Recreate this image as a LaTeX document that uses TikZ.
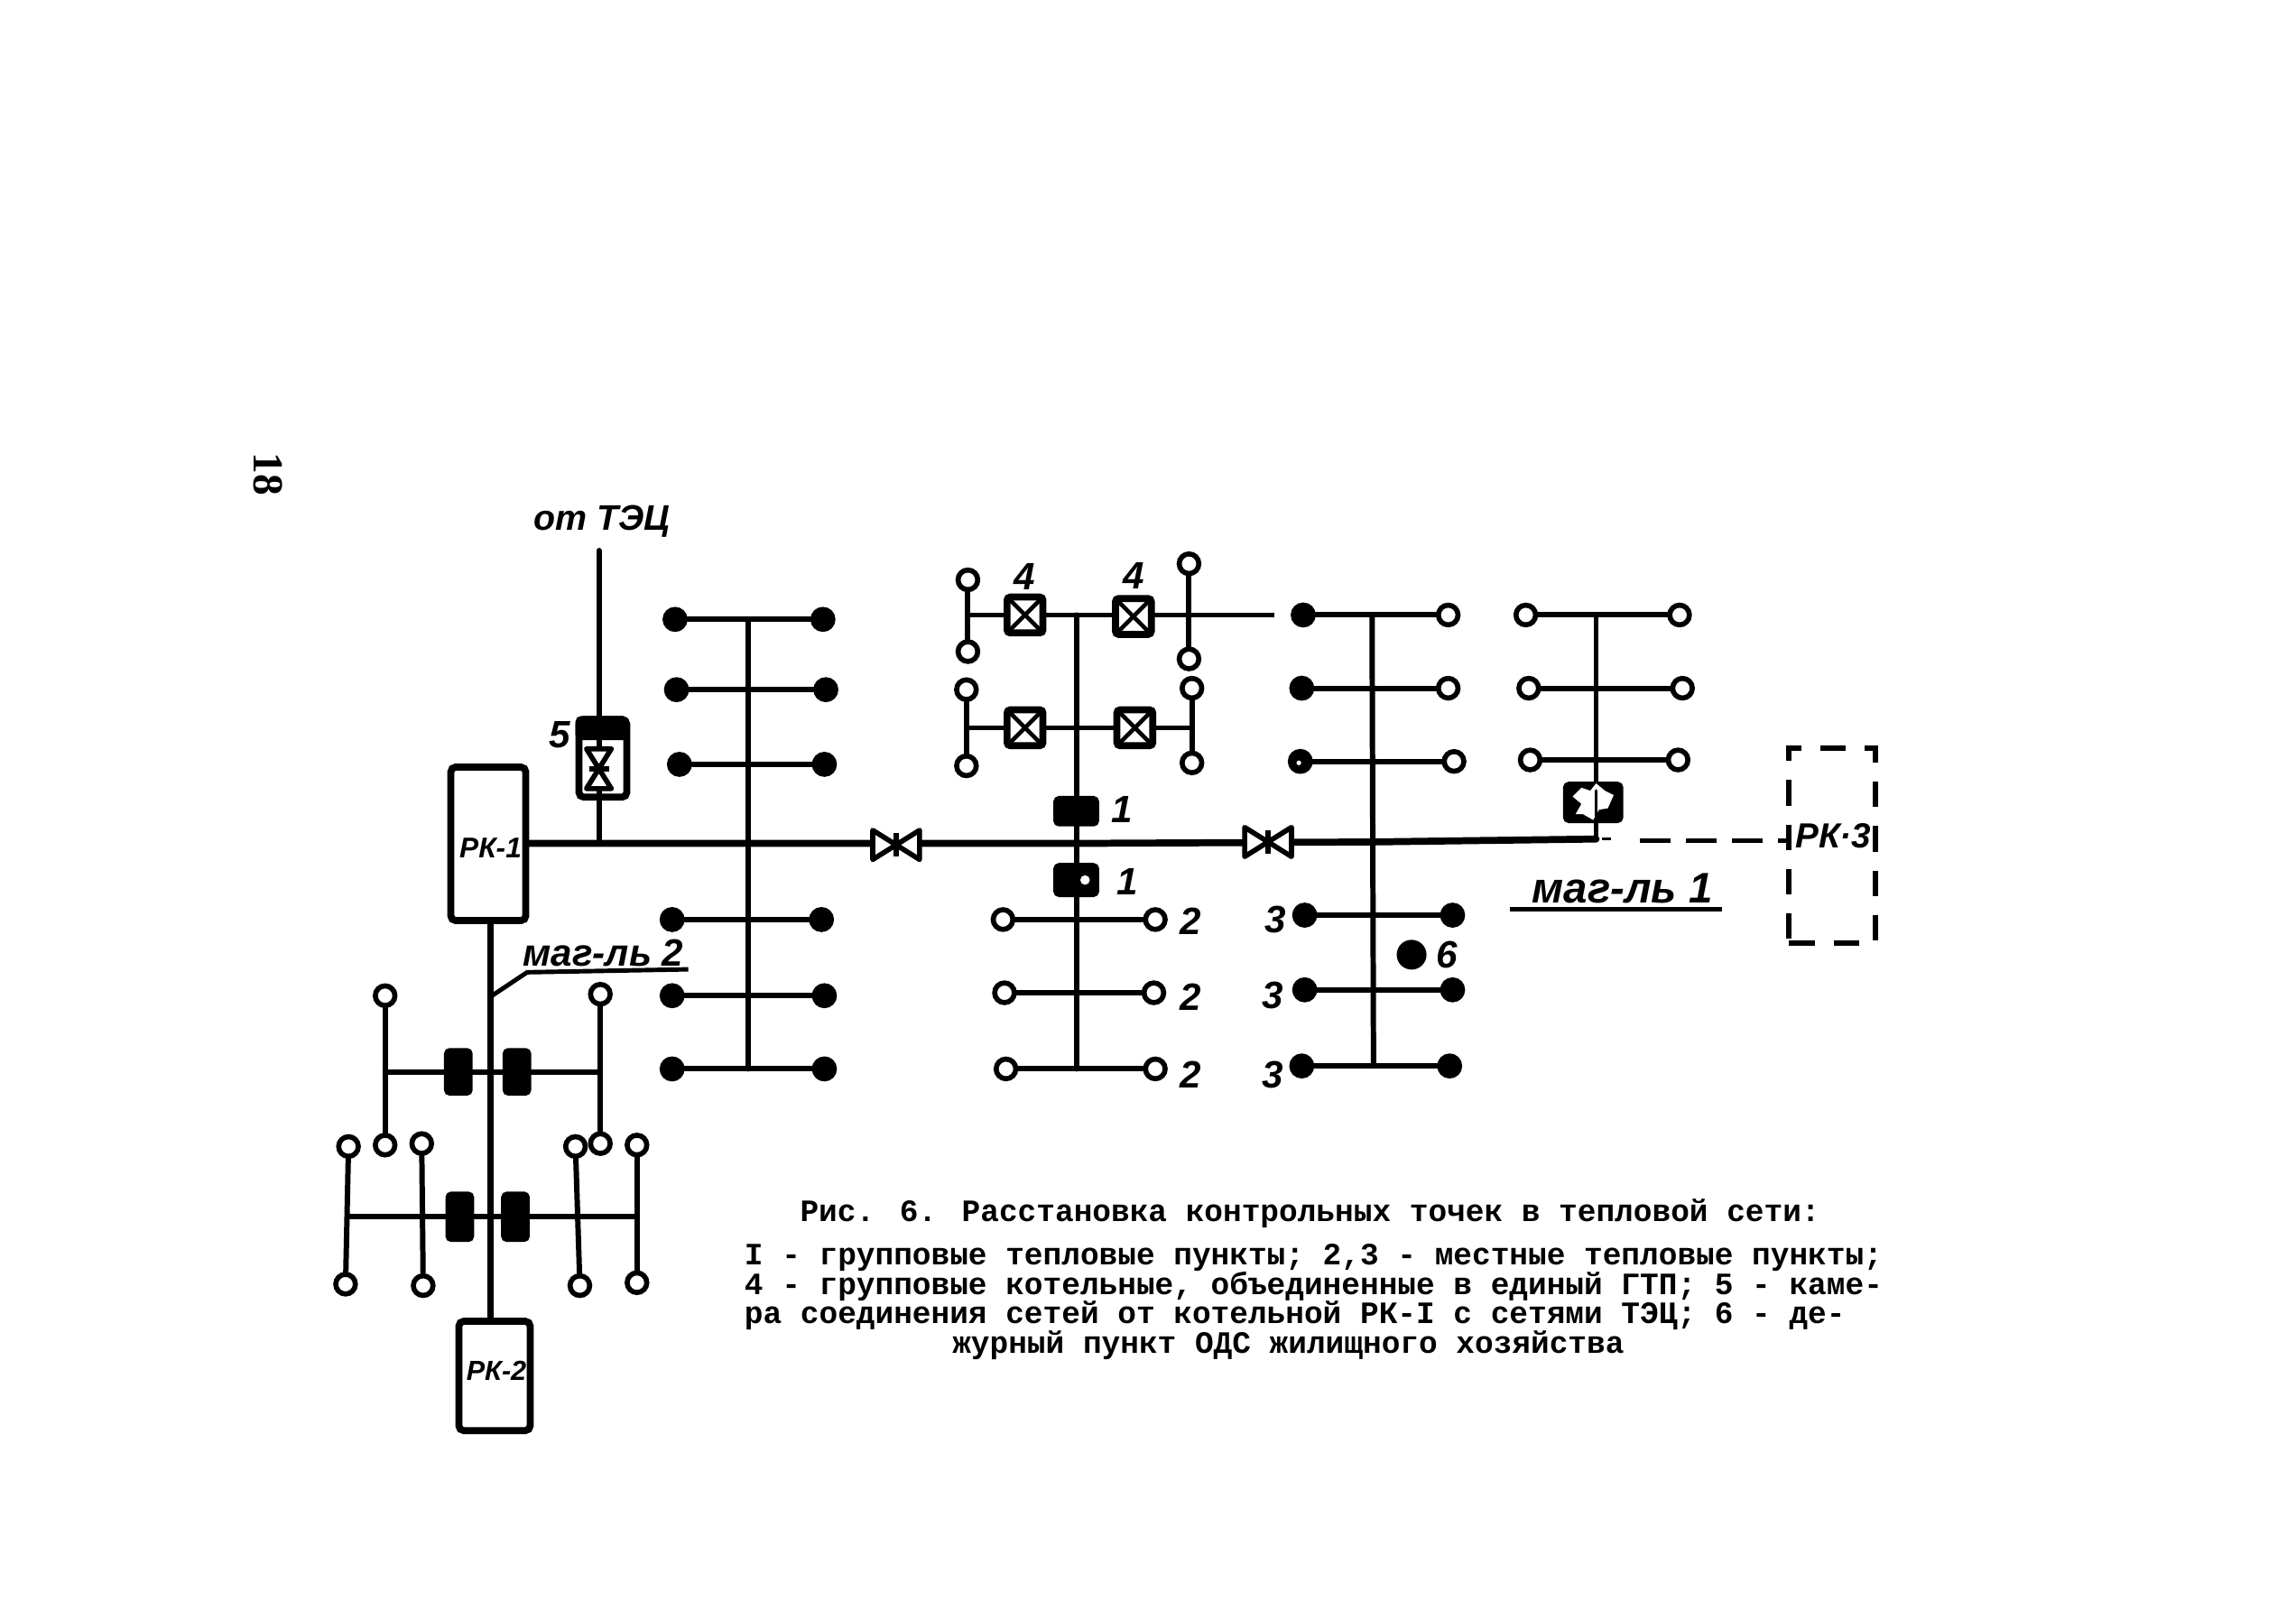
\documentclass[tikz,border=0pt]{standalone}
\usepackage{fontspec}
\setmainfont{Liberation Sans}
\newfontfamily\capfont{Liberation Mono}
\newfontfamily\handfont{Liberation Sans}
\newfontfamily\pagefont{Liberation Serif}
\newcommand{\hsz}[1]{\handfont\bfseries\itshape\fontsize{#1pt}{#1pt}\selectfont}
\usetikzlibrary{calc}
\tikzset{
  x=0.016224cm,y=-0.016224cm,
  pipe/.style={line width=1.7pt,line cap=round},
  main/.style={line width=2.2pt,line cap=round},
  dot/.style={circle,fill=black,draw=black,line width=0.4pt,minimum size=7.5pt,inner sep=0pt},
  ring/.style={circle,fill=white,draw=black,line width=1.6pt,minimum size=6.2pt,inner sep=0pt},
  rk/.style={draw=black,fill=white,line width=2.2pt,rounded corners=1.5pt,inner sep=0pt},
  blk/.style={fill=black,draw=black,line width=0.5pt,rounded corners=1.5pt,inner sep=0pt},
  xbox/.style={draw=black,fill=white,line width=2.2pt,rounded corners=1pt,minimum size=11.3pt,inner sep=0pt,
    path picture={\draw[line width=1.3pt] (path picture bounding box.north west)--(path picture bounding box.south east)
       (path picture bounding box.north east)--(path picture bounding box.south west);}},
  hand/.style={inner sep=0pt},
  num/.style={inner sep=0pt,font=\hsz{12}},
  capt/.style={font=\capfont\bfseries\fontsize{9.8pt}{11pt}\selectfont,inner sep=0pt,anchor=base west},
  valve/.pic={
    \draw[fill=white,line width=1.6pt,line join=round] (-16,-10)--(0,0)--(-16,10)--cycle;
    \draw[fill=white,line width=1.6pt,line join=round] (16,-10)--(0,0)--(16,10)--cycle;
    \draw[line width=1.6pt] (0,-8)--(0,8);
  }
}
\newcommand{\hrow}[6]{%
  \node[#5] (#1l) at (#3,#2) {};
  \node[#6] (#1r) at (#4,#2) {};
  \draw[pipe] (#1l) -- (#1r);}
\newcommand{\vbar}[5]{%
  \node[ring] (#1t) at (#2,#3) {};
  \node[ring] (#1b) at (#4,#5) {};
  \draw[pipe] (#1t) -- (#1b);}
\begin{document}
\begin{tikzpicture}
\useasboundingbox (0,0) rectangle (1568,1093);
\fill[white] (0,0) rectangle (1568,1093);

% page number
\node[font=\pagefont\bfseries\fontsize{13.5pt}{14pt}\selectfont,rotate=-90,inner sep=0pt] (pageno) at (183,324) {18};

% sources
\node[rk,anchor=north west,minimum width=0.83cm,minimum height=1.70cm] (rk1) at (305.5,521.5) {};
\node[rk,anchor=north west,minimum width=0.79cm,minimum height=1.21cm] (rk2) at (311,900) {};

% main line
\coordinate (mainend) at (1090,573);
\coordinate (dashstart) at (1120,574);
\coordinate (tecend) at (409,376);
\coordinate (tecjoin) at (409,576);
\coordinate (j1) at (511,576);
\coordinate (j2) at (735,576);
\coordinate (j3) at (937,575);
\draw[main] (rk1.east |- 0,576) -- (tecjoin) -- (j1) -- (j2) -- (j3) -- (mainend);
\draw[pipe] (tecend) -- (tecjoin);
\draw[pipe] (mainend) -- (1090,420);
\draw[line width=1.4pt,dash pattern=on 9.5pt off 5pt] (dashstart) -- (1222,574);
\coordinate (stubA) at (1094,573);
\coordinate (stubB) at (1100,573);
\draw[line width=1pt] (stubA) -- (stubB);

% RK-3 dashed box
\node[draw=black,line width=1.7pt,dash pattern=on 8pt off 6pt,anchor=north west,minimum width=0.957cm,minimum height=2.158cm,inner sep=0pt] (rk3) at (1220,509) {};

% group A
\hrow{a1}{423}{461}{562}{dot}{dot}
\hrow{a2}{471}{462}{564}{dot}{dot}
\hrow{a3}{522}{464}{563}{dot}{dot}
\hrow{a4}{628}{459}{561}{dot}{dot}
\hrow{a5}{680}{459}{563}{dot}{dot}
\hrow{a6}{730}{459}{563}{dot}{dot}
\coordinate (atop) at (511,423);
\coordinate (abot) at (511,730);
\draw[pipe] (atop) -- (abot);

% group of boilers
\coordinate (btop) at (735,420);
\coordinate (bbot) at (735,730);
\draw[pipe] (btop) -- (bbot);
\coordinate (btailL) at (661,420);
\coordinate (btailR) at (870,420);
\draw[line width=1.4pt] (btailL) -- (btailR);
\coordinate (b2L) at (660,497);
\coordinate (b2R) at (814,497);
\draw[line width=1.4pt] (b2L) -- (b2R);
\vbar{v1}{661}{396}{661}{445}
\vbar{v2}{812}{385}{812}{450}
\vbar{v3}{660}{471}{660}{523}
\vbar{v4}{814}{470}{814}{521}
\node[xbox] (x1) at (700,420) {};
\node[xbox] (x2) at (774,421) {};
\node[xbox] (x3) at (700,497) {};
\node[xbox] (x4) at (775,497) {};
\node[blk,minimum width=0.49cm,minimum height=0.32cm] (g1) at (735,554) {};
\node[blk,minimum width=0.49cm,minimum height=0.36cm] (g2) at (735,601) {};
\node[circle,fill=white,inner sep=0pt,minimum size=3pt] (g2dot) at (741,601) {};
\hrow{b1}{628}{685}{789}{ring}{ring}
\hrow{b2}{678}{686}{788}{ring}{ring}
\hrow{b3}{730}{687}{789}{ring}{ring}

% group C
\coordinate (ctop) at (937,420);
\coordinate (cbot) at (938,728);
\draw[pipe] (ctop) -- (cbot);
\hrow{c1}{420}{890}{989}{dot}{ring}
\hrow{c2}{470}{889}{989}{dot}{ring}
\hrow{c3}{520}{888}{993}{dot}{ring}
\hrow{c4}{625}{891}{992}{dot}{dot}
\hrow{c5}{676}{891}{992}{dot}{dot}
\hrow{c6}{728}{889}{990}{dot}{dot}
\node[circle,fill=black,minimum size=0.33cm,inner sep=0pt] (odc) at (964,652) {};
\node[circle,fill=white,inner sep=0pt,minimum size=1.5pt] (c3dot) at (887,521) {};

% group D
\hrow{d1}{420}{1042}{1147}{ring}{ring}
\hrow{d2}{470}{1044}{1149}{ring}{ring}
\hrow{d3}{519}{1045}{1146}{ring}{ring}
\node[blk,minimum width=0.65cm,minimum height=0.44cm] (g3) at (1088,548) {};
\fill[white] (1074,544)--(1080,538)--(1086,540)--(1090,535)--(1096,540)--(1102,543)--(1098,552)--(1092,553)--(1088,560)--(1081,556)--(1076,556)--(1080,549)--cycle;
\draw[pipe,line width=1pt] (1090,540)--(1090,560);

% group at RK-2
\coordinate (rk2top) at (335,630);
\draw[main] (rk1.south -| rk2top) -- (rk2.north -| rk2top);
\coordinate (r1L) at (263,732);
\coordinate (r1R) at (410,732);
\coordinate (r2L) at (238,831);
\coordinate (r2R) at (435,831);
\draw[pipe] (r1L) -- (r1R);
\draw[pipe] (r2L) -- (r2R);
\vbar{h1}{263}{680}{263}{782}
\vbar{h2}{410}{679}{410}{781}
\vbar{h3}{238}{783}{236}{877}
\vbar{h4}{288}{781}{289}{878}
\vbar{h5}{393}{783}{396}{878}
\vbar{h6}{435}{782}{435}{876}
\node[blk,minimum width=0.3cm,minimum height=0.51cm] (k1) at (313,732) {};
\node[blk,minimum width=0.3cm,minimum height=0.51cm] (k2) at (353,732) {};
\node[blk,minimum width=0.3cm,minimum height=0.54cm] (k3) at (314,831) {};
\node[blk,minimum width=0.3cm,minimum height=0.54cm] (k4) at (352,831) {};

% chamber 5
\node[rk,anchor=north west,minimum width=0.53cm,minimum height=0.86cm] (ch5) at (393,489) {};
\node[blk,anchor=north west,minimum width=0.57cm,minimum height=0.25cm] (ch5top) at (393,489) {};
\draw[pipe] (ch5top.south -| tecend) -- (ch5.south -| tecend);
\pic[rotate=90,scale=0.85] (v5) at (409,525) {valve};

% valves
\pic (va) at (612,577) {valve};
\pic (vb) at (866,575) {valve};

% leaders and underline
\coordinate (l2a) at (336,680);
\coordinate (l2b) at (360,664);
\coordinate (l2c) at (470,662);
\draw[line width=1.4pt] (l2a) -- (l2b) -- (l2c);
\coordinate (l1a) at (1031,621);
\coordinate (l1b) at (1176,621);
\draw[line width=1.4pt] (l1a) -- (l1b);

% labels
\node[hand,font=\hsz{11.2}] (l0) at (411,356) {от ТЭЦ};
\node[num] (l5) at (382,502) {5};
\node[hand,font=\hsz{9}] (lrk1) at (335,579) {РК-1};
\node[hand,font=\hsz{8.7}] (lrk2) at (339,936) {РК-2};
\node[hand,font=\hsz{11}] (lrk3) at (1252,571) {РК·3};
\node[hand,font=\hsz{13.5}] (lm1) at (1108,607) {маг-ль 1};
\node[hand,font=\hsz{12}] (lm2) at (412,651) {маг-ль 2};
\node[num] (n4a) at (700,394) {4};
\node[num] (n4b) at (774,393) {4};
\node[num] (n1a) at (766,553) {1};
\node[num] (n1b) at (770,602) {1};
\node[num] (n2a) at (813,629) {2};
\node[num] (n2b) at (813,681) {2};
\node[num] (n2c) at (813,734) {2};
\node[num] (n3a) at (871,628) {3};
\node[num] (n3b) at (869,680) {3};
\node[num] (n3c) at (869,734) {3};
\node[num] (n6) at (988,652) {6};

% caption
\node[capt] (cap1) at (546,834) {Рис. 6. Расстановка контрольных точек в тепловой сети:};
\node[capt] (cap2) at (508,864) {I - групповые тепловые пункты; 2,3 - местные тепловые пункты;};
\node[capt] (cap3) at (508,884) {4 - групповые котельные, объединенные в единый ГТП; 5 - каме-};
\node[capt] (cap4) at (508,904) {ра соединения сетей от котельной РК-I с сетями ТЭЦ; 6 - де-};
\node[capt] (cap5) at (650,924) {журный пункт ОДС жилищного хозяйства};
\end{tikzpicture}
\end{document}
